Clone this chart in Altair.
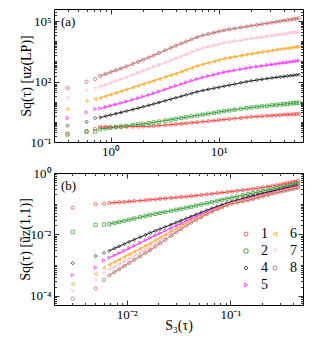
import altair as alt
import pandas as pd

# ---------------- data ----------------
SERIES = ["1", "2", "4", "5", "6", "7", "8"]
COLORS = {"1": "#ff3b3b", "2": "#2e9e2e", "4": "#1a1a1a", "5": "#ff2bff",
          "6": "#ffa31a", "7": "#ffbccb", "8": "#bd6262"}
SHAPES = {"1": "circle", "2": "square", "4": "diamond", "5": "triangle-right",
          "6": "triangle-left", "7": "triangle-down", "8": "circle"}

# panel (a): time lag tau
tau = [0.4, 0.6, 0.72, 0.8, 0.9, 1.0, 1.12, 1.25, 1.4, 1.6, 1.8, 2.0, 2.25, 2.5,
       2.8, 3.2, 3.6, 4.0, 4.5, 5.0, 5.6, 6.3, 7.1, 8, 9, 10, 11.2, 12.5, 14, 16,
       18, 20, 22.5, 25, 28, 31, 34, 37, 40, 43, 46, 49, 52, 55]

# log10 of S_q(tau) [u_z(LP)]
a_q1 = [-0.578, -0.454, -0.355, -0.256, -0.254, -0.252, -0.250, -0.248, -0.244, -0.236, -0.229, -0.223, -0.217, -0.202, -0.182, -0.159, -0.138, -0.119, -0.093, -0.070, -0.045, -0.020, 0.006, 0.034, 0.061, 0.086, 0.113, 0.138, 0.165, 0.196, 0.223, 0.246, 0.265, 0.281, 0.299, 0.315, 0.329, 0.341, 0.352, 0.362, 0.371, 0.380, 0.389, 0.397]
a_q2 = [-0.628, -0.489, -0.469, -0.354, -0.322, -0.292, -0.260, -0.229, -0.198, -0.160, -0.127, -0.097, -0.065, -0.028, 0.014, 0.064, 0.108, 0.147, 0.191, 0.230, 0.273, 0.317, 0.361, 0.406, 0.449, 0.489, 0.531, 0.568, 0.605, 0.649, 0.687, 0.719, 0.747, 0.771, 0.797, 0.821, 0.842, 0.862, 0.880, 0.897, 0.913, 0.928, 0.941, 0.955]
a_q4 = [-0.191, 0.007, 0.191, 0.217, 0.283, 0.342, 0.405, 0.467, 0.532, 0.613, 0.684, 0.748, 0.819, 0.887, 0.961, 1.048, 1.125, 1.194, 1.271, 1.339, 1.414, 1.491, 1.558, 1.613, 1.668, 1.717, 1.770, 1.822, 1.874, 1.938, 1.991, 2.037, 2.076, 2.110, 2.147, 2.179, 2.209, 2.233, 2.254, 2.274, 2.293, 2.311, 2.328, 2.344]
a_q5 = [0.191, 0.474, 0.638, 0.664, 0.735, 0.799, 0.868, 0.935, 1.006, 1.100, 1.181, 1.256, 1.338, 1.419, 1.508, 1.615, 1.708, 1.790, 1.879, 1.957, 2.043, 2.130, 2.208, 2.275, 2.341, 2.400, 2.463, 2.512, 2.559, 2.616, 2.665, 2.707, 2.746, 2.780, 2.817, 2.849, 2.880, 2.908, 2.933, 2.957, 2.979, 3.000, 3.019, 3.038]
a_q6 = [0.638, 1.050, 1.134, 1.186, 1.273, 1.352, 1.437, 1.519, 1.603, 1.703, 1.791, 1.870, 1.957, 2.037, 2.121, 2.221, 2.308, 2.387, 2.487, 2.575, 2.671, 2.769, 2.856, 2.928, 2.999, 3.064, 3.132, 3.182, 3.230, 3.287, 3.335, 3.378, 3.423, 3.462, 3.504, 3.541, 3.575, 3.603, 3.628, 3.651, 3.673, 3.694, 3.713, 3.732]
a_q7 = [1.169, 1.546, 1.630, 1.732, 1.830, 1.919, 2.014, 2.106, 2.202, 2.321, 2.425, 2.520, 2.623, 2.718, 2.818, 2.936, 3.040, 3.133, 3.244, 3.341, 3.448, 3.557, 3.647, 3.714, 3.780, 3.839, 3.902, 3.947, 3.989, 4.040, 4.083, 4.122, 4.161, 4.194, 4.231, 4.264, 4.294, 4.322, 4.347, 4.371, 4.393, 4.414, 4.433, 4.452]
a_q8 = [1.680, 1.993, 2.127, 2.277, 2.375, 2.465, 2.560, 2.652, 2.750, 2.875, 2.984, 3.083, 3.192, 3.299, 3.415, 3.552, 3.672, 3.778, 3.889, 3.987, 4.094, 4.203, 4.293, 4.360, 4.425, 4.484, 4.547, 4.592, 4.634, 4.685, 4.728, 4.768, 4.812, 4.851, 4.893, 4.930, 4.965, 4.997, 5.026, 5.053, 5.078, 5.102, 5.124, 5.146]

# panel (b): log10 of S_3(tau)
log_s3 = [-2.519, -2.298, -2.218, -2.167, -2.116, -2.071, -2.022, -1.975, -1.926, -1.869, -1.818, -1.773, -1.722, -1.677, -1.628, -1.571, -1.520, -1.475, -1.424, -1.379, -1.330, -1.280, -1.228, -1.177, -1.126, -1.081, -1.032, -0.985, -0.936, -0.879, -0.828, -0.783, -0.732, -0.687, -0.638, -0.595, -0.555, -0.519, -0.485, -0.454, -0.425, -0.398, -0.372, -0.348]

# log10 of S_q(tau) [u~_z(1,1)]
b_q1 = [-1.134, -1.010, -1.000, -0.979, -0.966, -0.954, -0.942, -0.930, -0.916, -0.900, -0.885, -0.872, -0.857, -0.843, -0.828, -0.811, -0.796, -0.783, -0.769, -0.755, -0.736, -0.717, -0.696, -0.677, -0.657, -0.639, -0.620, -0.601, -0.582, -0.558, -0.538, -0.517, -0.491, -0.467, -0.442, -0.420, -0.397, -0.373, -0.351, -0.330, -0.311, -0.293, -0.276, -0.260]
b_q2 = [-1.922, -1.694, -1.678, -1.666, -1.627, -1.594, -1.557, -1.521, -1.483, -1.440, -1.401, -1.367, -1.332, -1.302, -1.269, -1.231, -1.196, -1.165, -1.131, -1.099, -1.061, -1.024, -0.985, -0.946, -0.907, -0.873, -0.836, -0.800, -0.766, -0.725, -0.689, -0.658, -0.621, -0.589, -0.553, -0.523, -0.494, -0.468, -0.442, -0.420, -0.399, -0.379, -0.359, -0.342]
b_q4 = [-2.938, -2.704, -2.606, -2.534, -2.457, -2.389, -2.315, -2.243, -2.172, -2.090, -2.017, -1.951, -1.882, -1.822, -1.756, -1.680, -1.611, -1.550, -1.480, -1.419, -1.352, -1.286, -1.216, -1.150, -1.090, -1.036, -0.978, -0.927, -0.882, -0.828, -0.780, -0.742, -0.701, -0.664, -0.624, -0.590, -0.558, -0.531, -0.505, -0.481, -0.459, -0.438, -0.419, -0.400]
b_q5 = [-3.322, -3.078, -2.850, -2.763, -2.681, -2.610, -2.531, -2.455, -2.373, -2.277, -2.190, -2.114, -2.032, -1.961, -1.882, -1.792, -1.712, -1.642, -1.562, -1.492, -1.419, -1.345, -1.268, -1.197, -1.132, -1.075, -1.013, -0.959, -0.914, -0.861, -0.813, -0.775, -0.734, -0.697, -0.657, -0.623, -0.590, -0.561, -0.533, -0.508, -0.485, -0.463, -0.442, -0.423]
b_q6 = [-3.616, -3.290, -3.094, -2.992, -2.901, -2.823, -2.735, -2.652, -2.564, -2.463, -2.373, -2.292, -2.193, -2.107, -2.012, -1.902, -1.807, -1.723, -1.628, -1.547, -1.468, -1.389, -1.305, -1.226, -1.153, -1.088, -1.017, -0.962, -0.926, -0.882, -0.843, -0.806, -0.761, -0.721, -0.678, -0.641, -0.607, -0.579, -0.552, -0.528, -0.506, -0.485, -0.464, -0.446]
b_q7 = [-3.850, -3.502, -3.274, -3.156, -3.061, -2.978, -2.887, -2.799, -2.704, -2.594, -2.494, -2.406, -2.294, -2.196, -2.089, -1.965, -1.862, -1.770, -1.666, -1.578, -1.495, -1.412, -1.324, -1.242, -1.169, -1.104, -1.033, -0.980, -0.948, -0.909, -0.874, -0.837, -0.789, -0.746, -0.700, -0.659, -0.621, -0.592, -0.564, -0.539, -0.516, -0.494, -0.473, -0.454]
b_q8 = [-4.094, -3.762, -3.485, -3.336, -3.228, -3.135, -3.031, -2.931, -2.830, -2.713, -2.608, -2.514, -2.395, -2.291, -2.176, -2.044, -1.930, -1.829, -1.715, -1.619, -1.529, -1.440, -1.345, -1.259, -1.186, -1.121, -1.050, -0.997, -0.964, -0.925, -0.889, -0.853, -0.804, -0.762, -0.715, -0.675, -0.639, -0.611, -0.584, -0.560, -0.538, -0.517, -0.497, -0.478]

A_LOGS = {"1": a_q1, "2": a_q2, "4": a_q4, "5": a_q5, "6": a_q6, "7": a_q7, "8": a_q8}
B_LOGS = {"1": b_q1, "2": b_q2, "4": b_q4, "5": b_q5, "6": b_q6, "7": b_q7, "8": b_q8}
N_SPARSE = 3  # first points are not on the solid lines


def build(xvals, logs):
    rows = []
    for s in SERIES:
        for i, (xv, ly) in enumerate(zip(xvals, logs[s])):
            rows.append({"x": float(xv), "y": float(10 ** ly), "q": s, "i": i})
    return pd.DataFrame(rows)


df_a = build(tau, A_LOGS)
df_b = build([10 ** v for v in log_s3], B_LOGS)

# ---------------- styling helpers ----------------
FONT = "Liberation Serif"
SUP = str.maketrans("-0123456789", "⁻⁰¹²³⁴⁵⁶⁷⁸⁹")


def label_expr(exps):
    parts = []
    for e in exps:
        parts.append(f"abs(log(datum.value)/LN10 - ({e})) < 0.01 ? '10{str(e).translate(SUP)}'")
    return " : ".join(parts) + " : ''"


def minor_vals(lo, hi, majors):
    vals = []
    for d in range(-6, 7):
        for m in range(1, 10):
            v = m * 10.0 ** d
            if lo * 1.001 < v < hi * 0.999 and all(abs(v / M - 1) > 1e-6 for M in majors):
                vals.append(v)
    return vals


def axis(orient, values, major, exps=None, title=None):
    size = 5 if major else 2.5
    kw = dict(orient=orient, values=values, tickSize=size, offset=-size,
              domain=False, grid=False, tickColor="black", tickWidth=0.8,
              title=title)
    if major and exps is not None:
        kw.update(labels=True, labelExpr=label_expr(exps), labelFont=FONT,
                  labelFontSize=13, labelColor="black", labelPadding=3)
    else:
        kw.update(labels=False)
    if title:
        kw.update(titleFont=FONT, titleFontSize=14, titleFontWeight="normal",
                  titleColor="black", titlePadding=-3)
    return alt.Axis(**kw)


cdom = SERIES
crange = [COLORS[s] for s in cdom]
srange = [SHAPES[s] for s in cdom]


def panel(df, xdom, ydom, xexp, yexp, xtitle, ytitle, tag, legend, height):
    xs = alt.Scale(type="log", domain=xdom, nice=False)
    ys = alt.Scale(type="log", domain=ydom, nice=False)
    xmaj = [10.0 ** e for e in xexp]
    ymaj = [10.0 ** e for e in yexp]
    xmin = minor_vals(xdom[0], xdom[1], xmaj)
    ymin = minor_vals(ydom[0], ydom[1], ymaj)
    df_line = df[df["i"] >= N_SPARSE]

    def enc(xa, ya):
        return dict(x=alt.X("x:Q", scale=xs, axis=xa),
                    y=alt.Y("y:Q", scale=ys, axis=ya))

    pts = alt.Chart(df).mark_point(filled=False, size=11, strokeWidth=0.7, opacity=1).encode(
        **enc(axis("bottom", xmaj, True, xexp, xtitle), axis("left", ymaj, True, yexp, ytitle)),
        color=alt.Color("q:N", scale=alt.Scale(domain=cdom, range=crange), legend=legend),
        shape=alt.Shape("q:N", scale=alt.Scale(domain=cdom, range=srange), legend=legend),
    )
    lines = alt.Chart(df_line).mark_line(strokeWidth=1, opacity=1).encode(
        **enc(axis("bottom", xmin, False), axis("left", ymin, False)),
        stroke=alt.Stroke("q:N", scale=alt.Scale(domain=cdom, range=crange), legend=None),
        detail="q:N",
        order="x:Q",
    )
    top1 = alt.Chart(df).mark_point(opacity=0).encode(
        **enc(axis("top", xmaj, True), axis("right", ymaj, True)))
    top2 = alt.Chart(df).mark_point(opacity=0).encode(
        **enc(axis("top", xmin, False), axis("right", ymin, False)))
    txt = alt.Chart(pd.DataFrame({"t": [tag]})).mark_text(
        align="left", baseline="top", font=FONT, fontSize=13, color="black"
    ).encode(x=alt.value(7), y=alt.value(7), text="t:N")
    return alt.layer(pts, lines, top1, top2, txt).resolve_axis(
        x="independent", y="independent").properties(width=249, height=height)


legend_b = alt.Legend(orient="none", legendX=185, legendY=54, columns=2, title=None,
                      symbolSize=16, symbolStrokeWidth=0.8, labelFont=FONT,
                      labelFontSize=14, labelColor="black", padding=0,
                      rowPadding=3, columnPadding=-3, labelOffset=8)

pa = panel(df_a, [0.3, 60], [0.1, 4e5], [0, 1], [-1, 2, 5], None,
           "Sq(τ) [uz(LP)]", "(a)", None, 133)
pb = panel(df_b, [0.002, 0.5], [5e-5, 1], [-2, -1], [-4, -2, 0], "S₃(τ)",
           "Sq(τ) [ũz(1,1)]", "(b)", legend_b, 132)

chart = alt.vconcat(pa, pb, spacing=7).resolve_scale(
    color="independent", shape="independent", stroke="independent"
).properties(padding={"left": 9, "top": 0, "right": 2, "bottom": 2}).configure_view(
    stroke="black", strokeWidth=1
).configure_axis(titleFontWeight="normal")

chart.save("out.html", embed_options={"renderer": "svg", "actions": False})
